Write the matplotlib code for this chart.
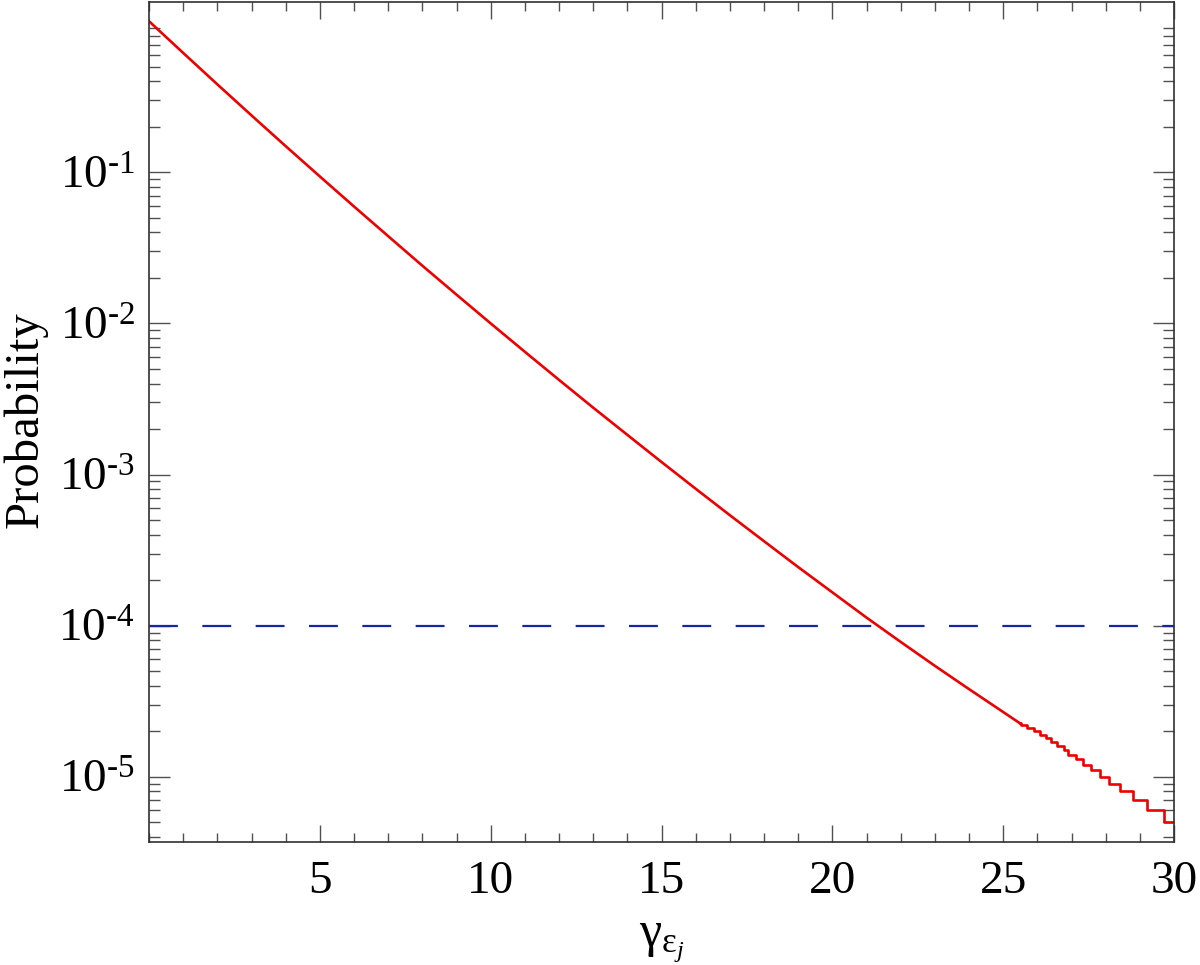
import matplotlib
matplotlib.use("Agg")
import matplotlib.pyplot as plt
import numpy as np
from matplotlib.ticker import FixedLocator, NullFormatter, FixedFormatter

# ---- data ----
gamma_smooth = [0, 1, 2, 3, 4, 5, 6, 7, 8, 9, 10, 11, 12, 13, 14, 15, 16, 17, 18,
                19, 20, 21, 22, 23, 24, 25, 25.5]
prob_smooth = [1.00, 0.617, 0.382, 0.238, 0.149, 0.0939, 0.0594, 0.0378, 0.0241,
               0.0155, 0.0100, 0.00649, 0.00423, 0.00277, 0.00183, 0.00121,
               0.000805, 0.000538, 0.000362, 0.000244, 0.000166, 0.000113,
               7.80e-5, 5.42e-5, 3.80e-5, 2.68e-5, 2.25e-5]

# staircase tail: each value starts at the given gamma
gamma_steps = [25.51, 25.71, 25.90, 26.08, 26.24, 26.39, 26.58, 26.78, 26.90,
               27.12, 27.33, 27.57, 27.83, 28.11, 28.43, 28.80, 29.22, 29.71, 30.0]
prob_steps = [2.2e-5, 2.1e-5, 2.0e-5, 1.9e-5, 1.8e-5, 1.7e-5, 1.6e-5, 1.5e-5,
              1.4e-5, 1.3e-5, 1.2e-5, 1.1e-5, 1.0e-5, 9e-6, 8e-6, 7e-6, 6e-6,
              5e-6, 5e-6]

threshold = 1e-4

x_ticks = [5, 10, 15, 20, 25, 30]
x_tick_labels = ["5", "10", "15", "20", "25", "30"]
y_ticks = [1e-5, 1e-4, 1e-3, 1e-2, 1e-1]
y_tick_labels = [r"$10^{\text{-5}}$", r"$10^{\text{-4}}$", r"$10^{\text{-3}}$",
                 r"$10^{\text{-2}}$", r"$10^{\text{-1}}$"]

# ---- style ----
plt.rcParams["font.family"] = ["Liberation Serif", "DejaVu Serif"]
plt.rcParams["mathtext.fontset"] = "custom"
plt.rcParams["mathtext.rm"] = "Liberation Serif"
plt.rcParams["mathtext.it"] = "Liberation Serif:italic"
plt.rcParams["mathtext.bf"] = "Liberation Serif:bold"

fig = plt.figure(figsize=(12, 9.65), dpi=100)
ax = fig.add_axes([149 / 1200, (965 - 842.3) / 965, (1174 - 149) / 1200, (842.3 - 2) / 965])

red = "#ee0000"
ax.plot(gamma_smooth, prob_smooth, color=red, lw=1.9)
ax.plot([gamma_smooth[-1]] + gamma_steps, [prob_smooth[-1]] + prob_steps,
        color=red, lw=1.9, drawstyle="steps-post")
ax.axhline(threshold, color="#1428a0", lw=1.6, dashes=(13, 11))

ax.set_yscale("log")
ax.set_xlim(0, 30)
ax.set_ylim(3.68e-6, 1.34)

ax.xaxis.set_major_locator(FixedLocator(x_ticks))
ax.xaxis.set_major_formatter(FixedFormatter(x_tick_labels))
ax.xaxis.set_minor_locator(FixedLocator(np.arange(0, 31, 1)))
ax.yaxis.set_major_locator(FixedLocator(y_ticks))
ax.yaxis.set_major_formatter(FixedFormatter(y_tick_labels))
minors = [m * 10.0 ** e for e in range(-6, 0) for m in range(2, 10)]
ax.yaxis.set_minor_locator(FixedLocator(minors))
ax.yaxis.set_minor_formatter(NullFormatter())

tc = "#505050"
ax.tick_params(axis="x", which="major", direction="in", length=12, width=1.0,
               top=True, bottom=True, color=tc, labelsize=34, pad=13)
ax.tick_params(axis="x", which="minor", direction="in", length=6.5, width=1.0,
               top=True, bottom=True, color=tc)
ax.tick_params(axis="y", which="major", direction="in", length=15, width=1.0,
               left=True, right=True, color=tc, labelsize=34, pad=10)
ax.tick_params(axis="y", which="minor", direction="in", length=8, width=1.0,
               left=True, right=True, color=tc)
for s in ax.spines.values():
    s.set_color("#303030")
    s.set_linewidth(1.2)

fig.text(25 / 1200, 1 - 420 / 965, "Probability", rotation=90, ha="center",
         va="center", fontsize=35)
fig.text(662 / 1200, 1 - 942 / 965, r"$\mathrm{\gamma}_{\mathrm{\varepsilon}_j}$",
         ha="center", va="center", fontsize=36)

fig.savefig("out.png", dpi=100)
